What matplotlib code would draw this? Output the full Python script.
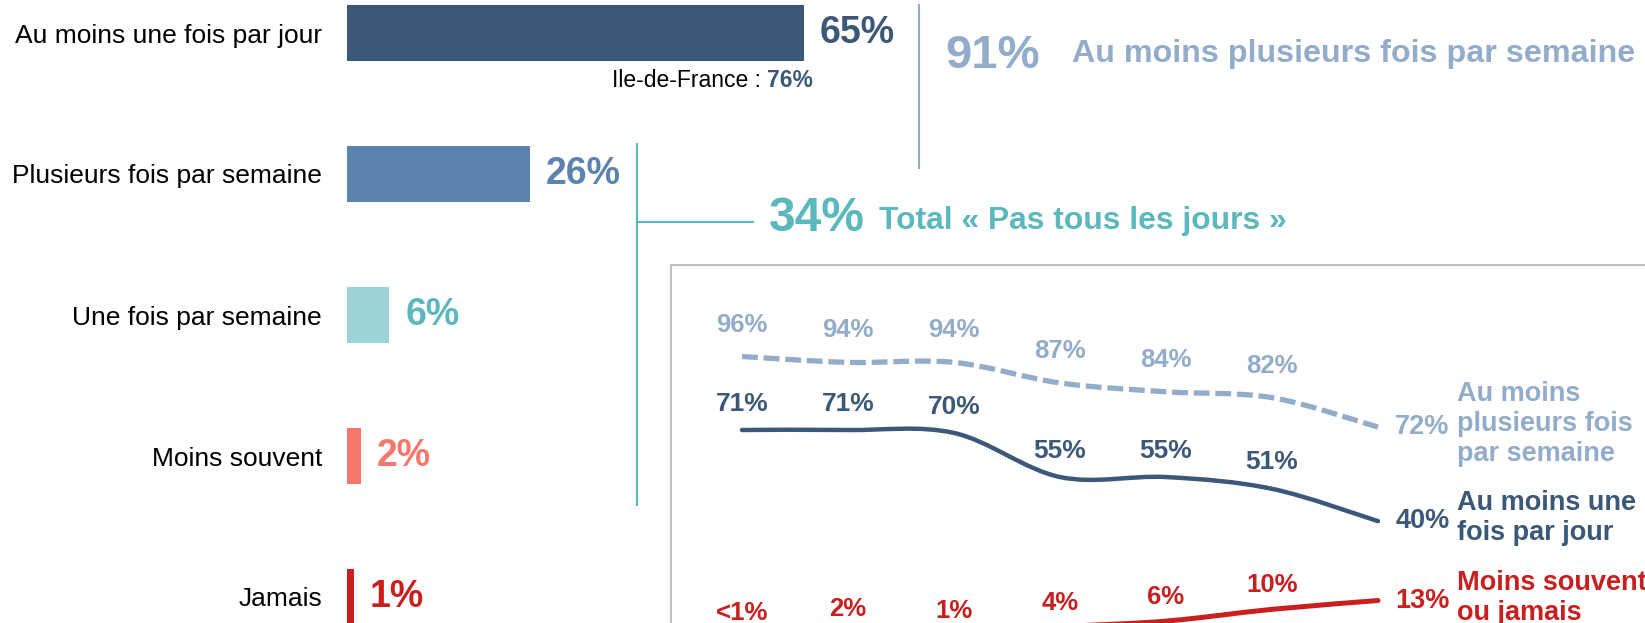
"""
Fréquence d'usage : barres horizontales + évolution en encart.
"""

import numpy as np
import matplotlib.pyplot as plt
from matplotlib.path import Path
from matplotlib.patches import PathPatch

plt.rcParams["font.family"] = ["Liberation Sans", "DejaVu Sans"]

# --- données -------------------------------------------------------------
categories = [
    "Au moins une fois par jour",
    "Plusieurs fois par semaine",
    "Une fois par semaine",
    "Moins souvent",
    "Jamais",
]
shares = [65, 26, 6, 2, 1]
bar_colors = ["#3c5878", "#5b83ae", "#9dd4d7", "#f7776c", "#c9201f"]
label_colors = ["#3c5878", "#5b83ae", "#5bb8bd", "#f7776c", "#c9201f"]

idf_value = "76%"
total_weekly = "91%"
total_not_daily = "34%"

waves = list(range(7))
daily = [71, 71, 70, 55, 55, 51, 40]
weekly = [96, 94, 94, 87, 84, 82, 72]
rarely = [0.5, 2, 1, 4, 6, 10, 13]
rarely_labels = ["<1%", "2%", "1%", "4%", "6%", "10%", "13%"]

NAVY = "#3c5878"
LIGHT = "#93acc9"
TEAL = "#5bb8bd"
RED = "#c9201f"

W, H = 1645, 623


def fx(x):
    return x / W


def fy(y):
    return 1 - y / H


def smooth_path(xs, ys):
    """Catmull-Rom curve through the points, as cubic Bezier segments."""
    pts = np.column_stack([xs, ys]).astype(float)
    ext = np.vstack([pts[0], pts, pts[-1]])
    verts = [pts[0]]
    codes = [Path.MOVETO]
    for i in range(1, len(ext) - 2):
        p0, p1, p2, p3 = ext[i - 1], ext[i], ext[i + 1], ext[i + 2]
        verts += [p1 + (p2 - p0) / 6, p2 - (p3 - p1) / 6, p2]
        codes += [Path.CURVE4] * 3
    return Path(verts, codes)


fig = plt.figure(figsize=(W / 100, H / 100), dpi=100)

# --- barres --------------------------------------------------------------
ax = fig.add_axes([fx(347), 0, 1 - fx(347), 1])
ax.set_xlim(0, (W - 347) / 7.03)
ax.set_ylim((H - 33) / 141, -33 / 141)
ypos = np.arange(len(categories))
ax.barh(ypos, shares, height=0.404, color=bar_colors)
ax.set_yticks(ypos, categories, fontsize=19)
ax.tick_params(axis="y", length=0, pad=18)
ax.set_xticks([])
for s in ax.spines.values():
    s.set_visible(False)
ax.patch.set_visible(False)

for y, v, c in zip(ypos, shares, label_colors):
    ax.annotate(f"{v}%", (v, y), xytext=(11.5, 0), textcoords="offset points",
                ha="left", va="center", fontsize=27, fontweight="bold", color=c)

t76 = ax.text(65 + 1.3, 0.34, idf_value, ha="right", va="center",
              fontsize=16.5, fontweight="bold", color=NAVY)
ax.annotate("Ile-de-France : ", xy=(0, 0.5), xycoords=t76, ha="right",
            va="center", fontsize=16.5, color="black")

# accolades / totaux
fig.add_artist(plt.Line2D([fx(919), fx(919)], [fy(5), fy(168)], color=LIGHT, lw=1.5))
fig.text(fx(993), fy(56), total_weekly, ha="center", va="center",
         fontsize=34, fontweight="bold", color=LIGHT)
fig.text(fx(1072), fy(54), "Au moins plusieurs fois par semaine", ha="left",
         va="center", fontsize=23.2, fontweight="bold", color=LIGHT)

fig.add_artist(plt.Line2D([fx(637), fx(637)], [fy(144), fy(505)], color=TEAL, lw=1.5))
fig.add_artist(plt.Line2D([fx(637), fx(753)], [fy(222), fy(222)], color=TEAL, lw=1.5))
fig.text(fx(769), fy(218), total_not_daily, ha="left", va="center",
         fontsize=34.5, fontweight="bold", color=TEAL)
fig.text(fx(879), fy(221), "Total « Pas tous les jours »", ha="left",
         va="center", fontsize=22.9, fontweight="bold", color=TEAL)

# --- encart évolution ----------------------------------------------------
ix = fig.add_axes([fx(671), 0, 1 - fx(671), 1 - 265 / H])
ix.set_xlim((671 - 742) / 106, (W - 742) / 106)
ix.set_ylim(71 - (H - 430) / 2.94, 71 + (430 - 265) / 2.94)
ix.set_xticks([])
ix.set_yticks([])
for side in ["right", "bottom"]:
    ix.spines[side].set_visible(False)
for side in ["left", "top"]:
    ix.spines[side].set_color("#c0c0c0")
    ix.spines[side].set_linewidth(1.5)
ix.patch.set_visible(False)

ix.add_patch(PathPatch(smooth_path(waves, weekly), fill=False, edgecolor=LIGHT,
                       lw=3.8, linestyle=(0, (3.0, 1.1)), capstyle="butt"))
ix.add_patch(PathPatch(smooth_path(waves, daily), fill=False, edgecolor=NAVY,
                       lw=3.2, capstyle="round"))
ix.add_patch(PathPatch(smooth_path(waves, rarely), fill=False, edgecolor=RED,
                       lw=3.6, capstyle="round"))

for x, v in zip(waves[:-1], weekly[:-1]):
    ix.annotate(f"{v}%", (x, v), xytext=(0, 23), textcoords="offset points",
                ha="center", va="center", fontsize=18.5, fontweight="bold",
                color=LIGHT, annotation_clip=False)
for x, v in zip(waves[:-1], daily[:-1]):
    ix.annotate(f"{v}%", (x, v), xytext=(0, 19), textcoords="offset points",
                ha="center", va="center", fontsize=19, fontweight="bold",
                color=NAVY, annotation_clip=False)
for x, v, lab in zip(waves[:-1], rarely[:-1], rarely_labels[:-1]):
    ix.annotate(lab, (x, v), xytext=(0, 17.5), textcoords="offset points",
                ha="center", va="center", fontsize=18.5, fontweight="bold",
                color=RED, annotation_clip=False)

end_series = [
    (weekly[-1], f"{weekly[-1]}%", "Au moins\nplusieurs fois\npar semaine", LIGHT),
    (daily[-1], f"{daily[-1]}%", "Au moins une\nfois par jour", NAVY),
    (rarely[-1], rarely_labels[-1], "Moins souvent\nou jamais", RED),
]
for v, lab, name, c in end_series:
    ix.annotate(lab, (waves[-1], v), xytext=(12.5, 0), textcoords="offset points",
                ha="left", va="center", fontsize=19.5, fontweight="bold",
                color=c, annotation_clip=False)
    ix.annotate(name, (waves[-1], v), xytext=(57, 2), textcoords="offset points",
                ha="left", va="center", fontsize=19.5, fontweight="bold",
                color=c, linespacing=1.2, annotation_clip=False)

fig.savefig("out.png", dpi=100)
